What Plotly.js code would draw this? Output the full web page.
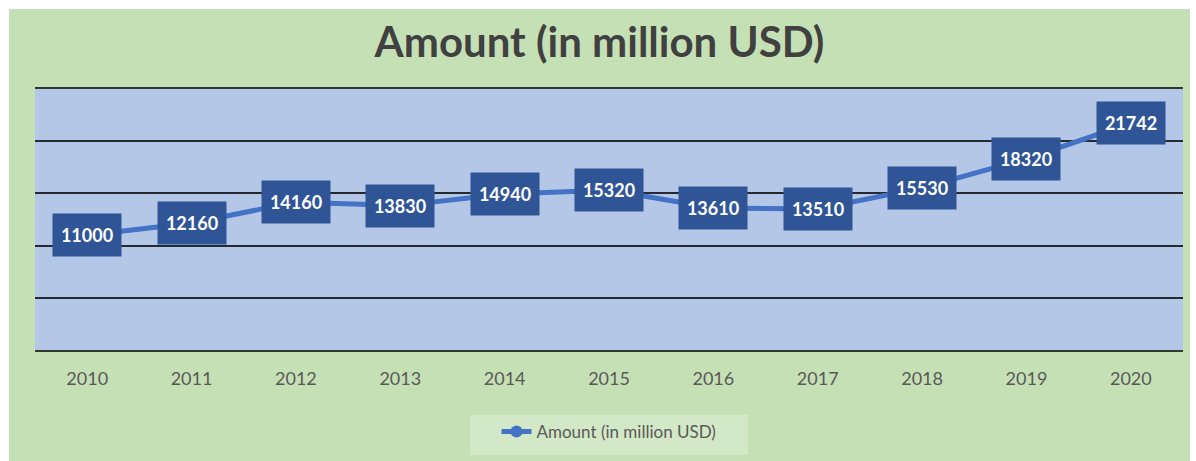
<!DOCTYPE html>
<html>
<head>
<meta charset="utf-8">
<script src="https://cdn.plot.ly/plotly-3.0.1.min.js"></script>
<style>
  html, body { margin: 0; padding: 0; background: #ffffff; }
  #chart { position: absolute; left: 9px; top: 9px; width: 1181px; height: 452px; }
</style>
</head>
<body>
<div id="chart"></div>
<script>
const years = ['2010', '2011', '2012', '2013', '2014', '2015', '2016', '2017', '2018', '2019', '2020'];
const amounts = [11000, 12160, 14160, 13830, 14940, 15320, 13610, 13510, 15530, 18320, 21742];
const seriesName = 'Amount (in million USD)';
const chartTitle = 'Amount (in million USD)';

const trace = {
  x: years,
  y: amounts,
  type: 'scatter',
  mode: 'lines+markers',
  name: seriesName,
  line: { color: '#4472c4', width: 5 },
  marker: { color: '#4472c4', size: 12, symbol: 'circle' },
  hoverinfo: 'x+y'
};

// category axis: annotations use the category index
const annotations = years.map((yr, i) => ({
  x: i,
  y: amounts[i],
  xref: 'x',
  yref: 'y',
  text: '<b>' + amounts[i] + '</b>',
  showarrow: false,
  bgcolor: '#2f5597',
  width: 64,
  height: 38,
  borderpad: 2,
  font: { family: 'Lato, "Open Sans", sans-serif', size: 18, color: '#ffffff' },
  align: 'center',
  valign: 'middle'
}));

const layout = {
  width: 1181,
  height: 452,
  margin: { l: 26, r: 7, t: 80, b: 111, pad: 0 },
  paper_bgcolor: '#c5e0b4',
  plot_bgcolor: '#b4c7e7',
  title: {
    text: '<b>' + chartTitle + '</b>',
    font: { family: 'Lato, "Open Sans", sans-serif', size: 42, color: '#404040' },
    x: 0.5,
    xanchor: 'center',
    y: 1 - 33 / 452,
    yanchor: 'middle'
  },
  xaxis: {
    type: 'category',
    range: [-0.5, 10.5],
    showgrid: false,
    zeroline: false,
    showline: true,
    mirror: true,
    linecolor: '#2e3a2e',
    linewidth: 2,
    ticks: '',
    ticklabelstandoff: 11,
    tickfont: { family: 'Lato, "Open Sans", sans-serif', size: 18, color: '#595959' },
    fixedrange: true
  },
  yaxis: {
    range: [0, 25000],
    dtick: 5000,
    showgrid: true,
    gridcolor: '#262a30',
    gridwidth: 2,
    zeroline: true,
    zerolinecolor: '#2a302a',
    zerolinewidth: 3,
    showticklabels: false,
    ticks: '',
    fixedrange: true
  },
  showlegend: true,
  legend: {
    orientation: 'h',
    x: 0.5,
    xanchor: 'center',
    y: -0.314,
    yanchor: 'middle',
    bgcolor: 'rgba(0,0,0,0)',
    font: { family: 'Lato, "Open Sans", sans-serif', size: 17, color: '#595959' }
  },
  shapes: [{
    type: 'rect',
    xref: 'paper',
    yref: 'paper',
    x0: 0.3789, x1: 0.621,
    y0: -0.4023, y1: -0.249,
    fillcolor: '#d3e8c6',
    line: { width: 0 },
    layer: 'below'
  }],
  annotations: annotations
};

Plotly.newPlot('chart', [trace], layout, { displayModeBar: false, staticPlot: true });
</script>
</body>
</html>
